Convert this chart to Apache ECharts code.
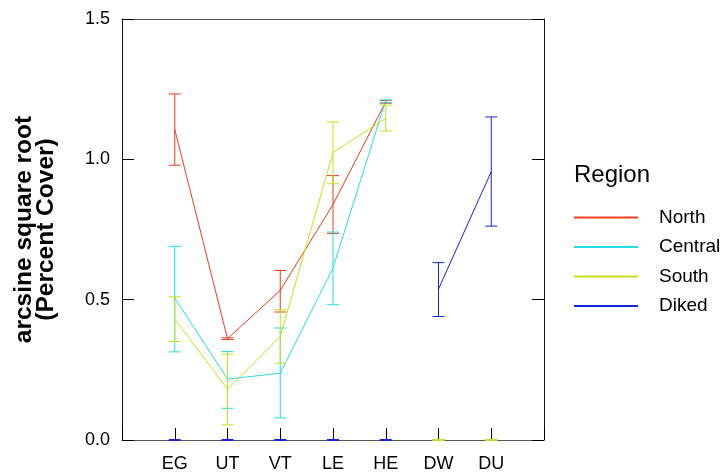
<!DOCTYPE html>
<html lang="en">
<head>
    <meta charset="UTF-8">
    <title>Percent Cover by Region</title>
    <script type="text/javascript" src="https://cdn.jsdelivr.net/npm/echarts@6/dist/echarts.min.js"></script>
</head>
<body>
<div id="chart" class="chart"></div>
</body>
<style>
    * {
        padding: 0;
        margin: 0;
    }

    html, body {
        width: 100%;
        height: 100%;
        background-color: white;
    }

    .chart {
        width: 728px;
        height: 472px;
    }
</style>
<script>

    // categories along the bottom
    const categories = ['EG', 'UT', 'VT', 'LE', 'HE', 'DW', 'DU']
    const yTicks = [0, 0.5, 1.0, 1.5]

    // means and error bar ends, null = no data (drawn as a mark at 0)
    const northMean = [1.107, 0.361, 0.533, 0.839, 1.205, null, null]
    const northLow = [0.979, 0.358, 0.456, 0.736, 1.200, null, null]
    const northHigh = [1.233, 0.364, 0.604, 0.942, 1.210, null, null]

    const centralMean = [0.506, 0.217, 0.238, 0.613, 1.210, null, null]
    const centralLow = [0.314, 0.113, 0.079, 0.482, 1.202, null, null]
    const centralHigh = [0.690, 0.315, 0.399, 0.741, 1.212, null, null]

    const southMean = [0.431, 0.181, 0.369, 1.024, 1.146, null, null]
    const southLow = [0.351, 0.054, 0.274, 0.913, 1.101, null, null]
    const southHigh = [0.510, 0.306, 0.464, 1.133, 1.193, null, null]

    const dikedMean = [null, null, null, null, null, 0.538, 0.956]
    const dikedLow = [null, null, null, null, null, 0.440, 0.762]
    const dikedHigh = [null, null, null, null, null, 0.632, 1.151]

    const regions = [
        {name: 'North', color: '#ee3c1c', mean: northMean, low: northLow, high: northHigh},
        {name: 'Central', color: '#22dfe6', mean: centralMean, low: centralLow, high: centralHigh},
        {name: 'South', color: '#c6e01a', mean: southMean, low: southLow, high: southHigh},
        {name: 'Diked', color: '#1424e0', mean: dikedMean, low: dikedLow, high: dikedHigh}
    ]

    const errorBars = function (color) {
        return function (params, api) {
            let x = api.value(0)
            let mean = api.value(1)
            let half = 6
            if (isNaN(mean)) {
                let p = api.coord([x, 0])
                return {
                    type: 'line',
                    shape: {x1: p[0] - half, y1: p[1], x2: p[0] + half, y2: p[1]},
                    style: {stroke: color, lineWidth: 2}
                }
            }
            let lo = api.coord([x, api.value(2)])
            let hi = api.coord([x, api.value(3)])
            return {
                type: 'group',
                children: [
                    {type: 'line', shape: {x1: lo[0], y1: lo[1], x2: hi[0], y2: hi[1]}, style: {stroke: color, lineWidth: 1}},
                    {type: 'line', shape: {x1: lo[0] - half, y1: lo[1], x2: lo[0] + half, y2: lo[1]}, style: {stroke: color, lineWidth: 1}},
                    {type: 'line', shape: {x1: hi[0] - half, y1: hi[1], x2: hi[0] + half, y2: hi[1]}, style: {stroke: color, lineWidth: 1}}
                ]
            }
        }
    }

    let series = []
    regions.forEach(r => {
        series.push({
            name: r.name,
            type: 'line',
            symbol: 'none',
            color: r.color,
            lineStyle: {width: 1, color: r.color},
            data: r.mean.map((v, i) => [i + 1, v]),
            z: 3
        })
    })
    regions.forEach(r => {
        series.push({
            name: r.name + ' error',
            type: 'custom',
            renderItem: errorBars(r.color),
            data: r.mean.map((v, i) => [i + 1, v === null ? NaN : v, r.low[i], r.high[i]]),
            z: 4
        })
    })

    let chart = echarts.init(document.getElementById('chart'))
    chart.setOption({
        animation: false,
        title: {
            text: 'Region',
            left: 569,
            top: 158,
            textStyle: {fontFamily: 'Liberation Sans', fontSize: 24, fontWeight: 'normal', color: '#000'}
        },
        legend: {
            data: regions.map(r => r.name),
            orient: 'vertical',
            left: 569,
            top: 202.5,
            icon: 'rect',
            itemWidth: 64,
            itemHeight: 2,
            itemGap: 9.5,
            textStyle: {fontFamily: 'Liberation Sans', fontSize: 19, lineHeight: 20, color: '#000', padding: [0, 0, 0, 16]}
        },
        grid: {left: 122, right: 184, top: 19, bottom: 32, outerBoundsMode: 'none'},
        xAxis: [
            {
                type: 'value',
                min: 0,
                max: categories.length + 1,
                interval: 1,
                splitLine: {show: false},
                axisLine: {onZero: false, lineStyle: {color: '#555', width: 1}},
                axisTick: {inside: true, length: 12, lineStyle: {color: '#000'}},
                axisLabel: {
                    margin: 15,
                    fontFamily: 'Liberation Sans',
                    fontSize: 18,
                    color: '#000',
                    formatter: v => categories[v - 1] || ''
                }
            },
            {
                type: 'value',
                position: 'top',
                min: 0,
                max: categories.length + 1,
                splitLine: {show: false},
                axisLine: {show: true, onZero: false, lineStyle: {color: '#555'}},
                axisTick: {show: false},
                axisLabel: {show: false}
            }
        ],
        yAxis: [
            {
                type: 'value',
                min: yTicks[0],
                max: yTicks[yTicks.length - 1],
                interval: 0.5,
                name: 'arcsine square root\n(Percent Cover)',
                nameLocation: 'middle',
                nameGap: 65,
                nameTextStyle: {fontFamily: 'Liberation Sans', fontSize: 24.5, fontWeight: 'bold', color: '#000', lineHeight: 22},
                splitLine: {show: false},
                axisLine: {show: true, onZero: false, lineStyle: {color: '#111'}},
                axisTick: {inside: true, length: 12, lineStyle: {color: '#000'}},
                axisLabel: {
                    margin: 12,
                    fontFamily: 'Liberation Sans',
                    fontSize: 18,
                    color: '#000',
                    formatter: v => v.toFixed(1)
                }
            },
            {
                type: 'value',
                position: 'right',
                min: yTicks[0],
                max: yTicks[yTicks.length - 1],
                interval: 0.5,
                splitLine: {show: false},
                axisLine: {show: true, onZero: false, lineStyle: {color: '#111'}},
                axisTick: {inside: true, length: 12, lineStyle: {color: '#000'}},
                axisLabel: {show: false}
            }
        ],
        series: series
    })

</script>
</html>
